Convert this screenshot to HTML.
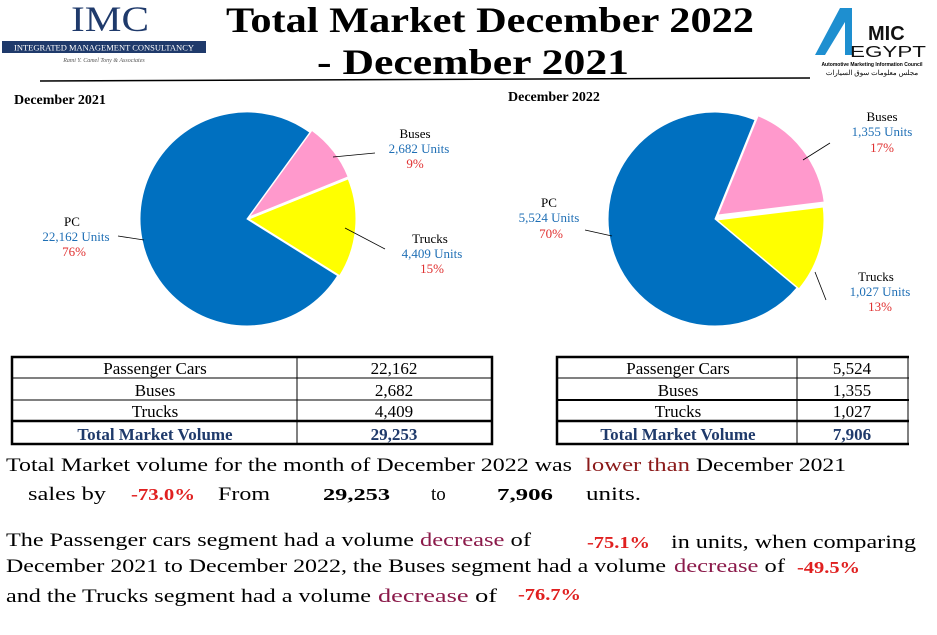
<!DOCTYPE html>
<html><head><meta charset="utf-8"><style>
body{margin:0;background:#fff;}
svg{display:block;font-family:"Liberation Serif","DejaVu Serif",serif;}
</style></head><body>
<svg width="937" height="635" viewBox="0 0 937 635" xmlns="http://www.w3.org/2000/svg">
<!-- IMC logo -->
<text x="110" y="31" font-size="36" fill="#1f3a6b" text-anchor="middle" textLength="78" lengthAdjust="spacingAndGlyphs">IMC</text>
<rect x="2" y="41" width="204" height="12" fill="#1f3a6b"/>
<text x="104" y="50.5" font-size="8" fill="#fff" text-anchor="middle" textLength="180" lengthAdjust="spacingAndGlyphs">INTEGRATED MANAGEMENT CONSULTANCY</text>
<text x="104" y="62" font-size="6" fill="#555" font-style="italic" text-anchor="middle">Rami Y. Camel Tony &amp; Associates</text>
<!-- Title -->
<text x="490" y="32" font-size="36" font-weight="bold" text-anchor="middle" textLength="528" lengthAdjust="spacingAndGlyphs">Total Market December 2022</text>
<text x="473" y="74" font-size="36" font-weight="bold" text-anchor="middle" textLength="312" lengthAdjust="spacingAndGlyphs">- December 2021</text>
<line x1="40" y1="81" x2="810" y2="78" stroke="#000" stroke-width="1.5"/>
<!-- AMIC logo -->
<path d="M815 55 L840 8 L852 8 L852 55 L845 55 L845 22 L825 55Z" fill="#1e8fd0"/>
<text x="868" y="40" font-size="20" font-weight="bold" fill="#111" font-family="Liberation Sans,sans-serif">MIC</text>
<text x="850" y="57" font-size="16" fill="#111" font-family="Liberation Sans,sans-serif" textLength="76" lengthAdjust="spacingAndGlyphs">EGYPT</text>
<text x="872" y="66" font-size="5" text-anchor="middle" font-family="Liberation Sans,sans-serif" font-weight="bold">Automotive Marketing Information Council</text>
<text x="872" y="75" font-size="7" text-anchor="middle" font-family="Liberation Sans,sans-serif">مجلس معلومات سوق السيارات</text>
<!-- subtitles -->
<text x="14" y="104" font-size="14" font-weight="bold">December 2021</text>
<text x="508" y="101" font-size="14" font-weight="bold">December 2022</text>
<!-- Left pie -->
<path d="M247 219 L337.7 275.7 A107 107 0 1 1 309.9 132.4 Z" fill="#0070c0" stroke="#fff" stroke-width="1"/>
<path d="M249 217 L311.9 130.4 A107 107 0 0 1 348.2 176.9 Z" fill="#ff99cc" stroke="#fff" stroke-width="1"/>
<path d="M249 219 L348.2 178.9 A107 107 0 0 1 339.7 275.7 Z" fill="#ffff00" stroke="#fff" stroke-width="1"/>
<line x1="118" y1="236" x2="144" y2="240" stroke="#000" stroke-width="0.8"/>
<line x1="333" y1="157" x2="375" y2="153" stroke="#000" stroke-width="0.8"/>
<line x1="345" y1="228" x2="385" y2="249" stroke="#000" stroke-width="0.8"/>
<g font-size="13" text-anchor="middle">
<text x="72" y="226">PC</text><text x="76" y="241" fill="#1f6fb5">22,162 Units</text><text x="74" y="256" fill="#e03030">76%</text>
<text x="415" y="138">Buses</text><text x="419" y="153" fill="#1f6fb5">2,682  Units</text><text x="415" y="168" fill="#e03030">9%</text>
<text x="430" y="243">Trucks</text><text x="432" y="258" fill="#1f6fb5">4,409 Units</text><text x="432" y="273" fill="#e03030">15%</text>
<text x="549" y="207">PC</text><text x="549" y="222" fill="#1f6fb5">5,524 Units</text><text x="551" y="238" fill="#e03030">70%</text>
<text x="882" y="121">Buses</text><text x="882" y="136" fill="#1f6fb5">1,355 Units</text><text x="882" y="152" fill="#e03030">17%</text>
<text x="876" y="281">Trucks</text><text x="880" y="296" fill="#1f6fb5">1,027 Units</text><text x="880" y="311" fill="#e03030">13%</text>
</g>
<!-- Right pie -->
<path d="M715 219 L797.0 287.8 A107 107 0 1 1 755.1 119.8 Z" fill="#0070c0" stroke="#fff" stroke-width="1"/>
<path d="M718 215 L758.1 115.8 A107 107 0 0 1 824.2 202.0 Z" fill="#ff99cc" stroke="#fff" stroke-width="1"/>
<path d="M717 220 L823.2 207.0 A107 107 0 0 1 799.0 288.8 Z" fill="#ffff00" stroke="#fff" stroke-width="1"/>
<line x1="585" y1="230" x2="612" y2="236" stroke="#000" stroke-width="0.8"/>
<line x1="803" y1="160" x2="830" y2="143" stroke="#000" stroke-width="0.8"/>
<line x1="815" y1="272" x2="826" y2="300" stroke="#000" stroke-width="0.8"/>
<!-- Tables -->
<g stroke="#000" fill="none">
<rect x="12" y="357" width="480" height="87" stroke-width="2.5"/>
<line x1="297" y1="357" x2="297" y2="444" stroke-width="1"/>
<line x1="12" y1="378" x2="492" y2="378" stroke-width="1"/>
<line x1="12" y1="400" x2="492" y2="400" stroke-width="1"/>
<line x1="12" y1="421" x2="492" y2="421" stroke-width="2.5"/>
<rect x="557" y="357" width="360" height="87" stroke-width="2.5"/>
<line x1="797" y1="357" x2="797" y2="444" stroke-width="1"/>
<line x1="557" y1="378" x2="917" y2="378" stroke-width="1"/>
<line x1="557" y1="400" x2="917" y2="400" stroke-width="2"/>
<line x1="557" y1="421" x2="917" y2="421" stroke-width="2.5"/>
</g>
<rect x="909" y="350" width="28" height="100" fill="#fff"/>
<line x1="908" y1="357" x2="908" y2="444" stroke="#000" stroke-width="1"/>
<g font-size="17" text-anchor="middle">
<text x="155" y="374">Passenger Cars</text><text x="394" y="374">22,162</text>
<text x="155" y="396">Buses</text><text x="394" y="396">2,682</text>
<text x="155" y="417">Trucks</text><text x="394" y="417">4,409</text>
<text x="155" y="440" fill="#1f3a6b" font-weight="bold">Total Market Volume</text><text x="394" y="440" fill="#1f3a6b" font-weight="bold">29,253</text>
<text x="678" y="374">Passenger Cars</text><text x="852" y="374">5,524</text>
<text x="678" y="396">Buses</text><text x="852" y="396">1,355</text>
<text x="678" y="417">Trucks</text><text x="852" y="417">1,027</text>
<text x="678" y="440" fill="#1f3a6b" font-weight="bold">Total Market Volume</text><text x="852" y="440" fill="#1f3a6b" font-weight="bold">7,906</text>
</g>
<!-- Paragraph text -->
<g font-size="19">
<text x="6" y="471" textLength="566" lengthAdjust="spacingAndGlyphs">Total Market volume for the month of December 2022 was</text>
<text x="585" y="471" fill="#8b1a1a" textLength="105" lengthAdjust="spacingAndGlyphs">lower than</text>
<text x="696" y="471" textLength="150" lengthAdjust="spacingAndGlyphs">December 2021</text>
<text x="28" y="500" textLength="78" lengthAdjust="spacingAndGlyphs">sales by</text>
<text x="131" y="500" fill="#e02020" font-weight="bold" font-size="17" textLength="64" lengthAdjust="spacingAndGlyphs">-73.0%</text>
<text x="218" y="500" textLength="52" lengthAdjust="spacingAndGlyphs">From</text>
<text x="323" y="500" font-weight="bold" font-size="17" textLength="67" lengthAdjust="spacingAndGlyphs">29,253</text>
<text x="431" y="500">to</text>
<text x="497" y="500" font-weight="bold" font-size="17" textLength="56" lengthAdjust="spacingAndGlyphs">7,906</text>
<text x="586" y="500" textLength="55" lengthAdjust="spacingAndGlyphs">units.</text>
<text x="6" y="546" textLength="408" lengthAdjust="spacingAndGlyphs">The Passenger cars segment had a volume</text>
<text x="420" y="546" textLength="111" lengthAdjust="spacingAndGlyphs"><tspan fill="#8b1a4a">decrease</tspan> of</text>
<text x="587" y="548" fill="#e02020" font-weight="bold" font-size="17" textLength="63" lengthAdjust="spacingAndGlyphs">-75.1%</text>
<text x="671" y="548" textLength="245" lengthAdjust="spacingAndGlyphs">in units, when comparing</text>
<text x="6" y="572" textLength="660" lengthAdjust="spacingAndGlyphs">December 2021 to December 2022, the Buses segment had a volume</text>
<text x="674" y="572" textLength="111" lengthAdjust="spacingAndGlyphs"><tspan fill="#8b1a4a">decrease</tspan> of</text>
<text x="797" y="573" fill="#e02020" font-weight="bold" font-size="17" textLength="63" lengthAdjust="spacingAndGlyphs">-49.5%</text>
<text x="6" y="602" textLength="365" lengthAdjust="spacingAndGlyphs">and the Trucks segment had a volume</text>
<text x="378" y="602" textLength="119" lengthAdjust="spacingAndGlyphs"><tspan fill="#8b1a4a">decrease</tspan> of</text>
<text x="518" y="600" fill="#e02020" font-weight="bold" font-size="17" textLength="63" lengthAdjust="spacingAndGlyphs">-76.7%</text>
</g>
</svg>
</body></html>
